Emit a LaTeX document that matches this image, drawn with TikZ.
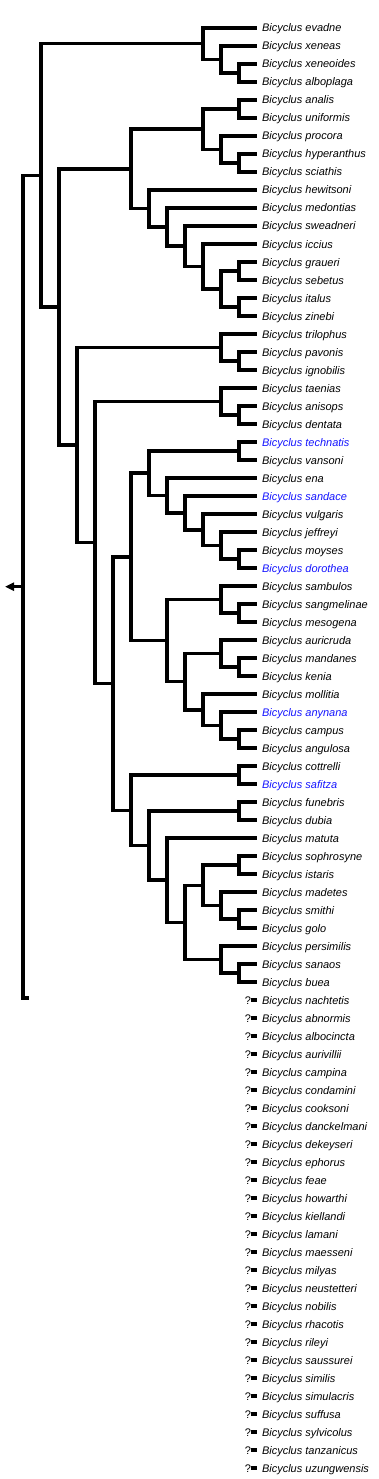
\documentclass[tikz,border=0pt]{standalone}
\usepackage{fontspec}
\setmainfont{Liberation Sans}
\usepackage{tikz}
\usetikzlibrary{
	arrows.meta,
	calc
}
\definecolor{seqblue}{RGB}{20,20,255}
\tikzset{every path/.append style={line width=3.5pt}}
\tikzset{
	leaf/.style={anchor=west,inner xsep=5pt,inner ysep=0pt,outer sep=0pt,text height=9pt,text depth=1pt,font=\fontsize{11}{13}\selectfont\itshape},
	qmark/.style={anchor=east,inner sep=0pt,outer sep=0pt,text height=9pt,text depth=1pt,font=\fontsize{11}{13}\selectfont},
	seq/.style={text=seqblue},
	branch/.style={line join=miter}
}
\newcommand{\tikzLeaf}[3][]{\node (#3) at (257,#2) [leaf,#1]{Bicyclus #3};}
\newcommand{\tikzClade}[4]{%
	\coordinate (#4m) at ($(#2)!0.5!(#3)$);
	\coordinate (#4) at (#1,0 |- #4m);
	\draw[branch] (#4) |- (#2);
	\draw[branch] (#4) |- (#3);
}

\begin{document}
\begin{tikzpicture}[x=1pt,y=-1pt]
	\useasboundingbox (0,0) rectangle (378,1479);

	\tikzLeaf{28}{evadne}
	\tikzLeaf{46}{xeneas}
	\tikzLeaf{64}{xeneoides}
	\tikzLeaf{82}{alboplaga}
	\tikzLeaf{100}{analis}
	\tikzLeaf{118}{uniformis}
	\tikzLeaf{136}{procora}
	\tikzLeaf{154}{hyperanthus}
	\tikzLeaf{172}{sciathis}
	\tikzLeaf{190}{hewitsoni}
	\tikzLeaf{208}{medontias}
	\tikzLeaf{226}{sweadneri}
	\tikzLeaf{244}{iccius}
	\tikzLeaf{262}{graueri}
	\tikzLeaf{280}{sebetus}
	\tikzLeaf{298}{italus}
	\tikzLeaf{316}{zinebi}
	\tikzLeaf{334}{trilophus}
	\tikzLeaf{352}{pavonis}
	\tikzLeaf{370}{ignobilis}
	\tikzLeaf{388}{taenias}
	\tikzLeaf{406}{anisops}
	\tikzLeaf{424}{dentata}
	\tikzLeaf[seq]{442}{technatis}
	\tikzLeaf{460}{vansoni}
	\tikzLeaf{478}{ena}
	\tikzLeaf[seq]{496}{sandace}
	\tikzLeaf{514}{vulgaris}
	\tikzLeaf{532}{jeffreyi}
	\tikzLeaf{550}{moyses}
	\tikzLeaf[seq]{568}{dorothea}
	\tikzLeaf{586}{sambulos}
	\tikzLeaf{604}{sangmelinae}
	\tikzLeaf{622}{mesogena}
	\tikzLeaf{640}{auricruda}
	\tikzLeaf{658}{mandanes}
	\tikzLeaf{676}{kenia}
	\tikzLeaf{694}{mollitia}
	\tikzLeaf[seq]{712}{anynana}
	\tikzLeaf{730}{campus}
	\tikzLeaf{748}{angulosa}
	\tikzLeaf{766}{cottrelli}
	\tikzLeaf[seq]{784}{safitza}
	\tikzLeaf{802}{funebris}
	\tikzLeaf{820}{dubia}
	\tikzLeaf{838}{matuta}
	\tikzLeaf{856}{sophrosyne}
	\tikzLeaf{874}{istaris}
	\tikzLeaf{892}{madetes}
	\tikzLeaf{910}{smithi}
	\tikzLeaf{928}{golo}
	\tikzLeaf{946}{persimilis}
	\tikzLeaf{964}{sanaos}
	\tikzLeaf{982}{buea}

	\foreach \sp [count=\i] in {nachtetis,abnormis,albocincta,aurivillii,campina,condamini,cooksoni,danckelmani,dekeyseri,ephorus,feae,howarthi,kiellandi,lamani,maesseni,milyas,neustetteri,nobilis,rhacotis,rileyi,saussurei,similis,simulacris,suffusa,sylvicolus,tanzanicus,uzungwensis}{
		\node (\sp) at (257,{982+18*\i}) [leaf]{Bicyclus \sp};
		\node (q-\sp) at (251,{982+18*\i}) [qmark]{?};
		\draw (q-\sp) -- (\sp);
	}

	\tikzClade{239}{xeneoides}{alboplaga}{g1}
	\tikzClade{221}{xeneas}{g1}{g2}
	\tikzClade{203}{evadne}{g2}{g3}

	\tikzClade{239}{analis}{uniformis}{h1}
	\tikzClade{239}{hyperanthus}{sciathis}{h2}
	\tikzClade{221}{procora}{h2}{h3}
	\tikzClade{203}{h1}{h3}{h4}
	\tikzClade{239}{graueri}{sebetus}{i1}
	\tikzClade{239}{italus}{zinebi}{i2}
	\tikzClade{221}{i1}{i2}{i3}
	\tikzClade{203}{iccius}{i3}{i4}
	\tikzClade{185}{sweadneri}{i4}{i5}
	\tikzClade{167}{medontias}{i5}{i6}
	\tikzClade{149}{hewitsoni}{i6}{i7}
	\tikzClade{131}{h4}{i7}{h5}

	\tikzClade{239}{pavonis}{ignobilis}{j1}
	\tikzClade{221}{trilophus}{j1}{j2}
	\tikzClade{239}{anisops}{dentata}{k1}
	\tikzClade{221}{taenias}{k1}{k2}

	\tikzClade{239}{technatis}{vansoni}{l1}
	\tikzClade{239}{moyses}{dorothea}{l2}
	\tikzClade{221}{jeffreyi}{l2}{l3}
	\tikzClade{203}{vulgaris}{l3}{l4}
	\tikzClade{185}{sandace}{l4}{l5}
	\tikzClade{167}{ena}{l5}{l6}
	\tikzClade{149}{l1}{l6}{l7}
	\tikzClade{239}{sangmelinae}{mesogena}{m1}
	\tikzClade{221}{sambulos}{m1}{m2}
	\tikzClade{239}{mandanes}{kenia}{m3}
	\tikzClade{221}{auricruda}{m3}{m4}
	\tikzClade{239}{campus}{angulosa}{m5}
	\tikzClade{221}{anynana}{m5}{m6}
	\tikzClade{203}{mollitia}{m6}{m7}
	\tikzClade{185}{m4}{m7}{m8}
	\tikzClade{167}{m2}{m8}{m9}
	\tikzClade{131}{l7}{m9}{l8}

	\tikzClade{239}{cottrelli}{safitza}{n1}
	\tikzClade{239}{funebris}{dubia}{n2}
	\tikzClade{239}{sophrosyne}{istaris}{n3}
	\tikzClade{239}{smithi}{golo}{n4}
	\tikzClade{221}{madetes}{n4}{n5}
	\tikzClade{203}{n3}{n5}{n6}
	\tikzClade{239}{sanaos}{buea}{n7}
	\tikzClade{221}{persimilis}{n7}{n8}
	\tikzClade{185}{n6}{n8}{n9}
	\tikzClade{167}{matuta}{n9}{n10}
	\tikzClade{149}{n2}{n10}{n11}
	\tikzClade{131}{n1}{n11}{n12}

	\tikzClade{113}{l8}{n12}{o1}
	\tikzClade{95}{k2}{o1}{o2}
	\tikzClade{77}{j2}{o2}{o3}
	\tikzClade{59}{h5}{o3}{o4}
	\tikzClade{41}{g3}{o4}{o5}

	\coordinate (unplaced) at (29,998);
	\tikzClade{23}{o5}{unplaced}{root}
	\coordinate (tip) at (5,0 |- root);
	\draw[-{Triangle[length=9pt,width=8pt]}] (root) -- (tip);
\end{tikzpicture}
\end{document}
